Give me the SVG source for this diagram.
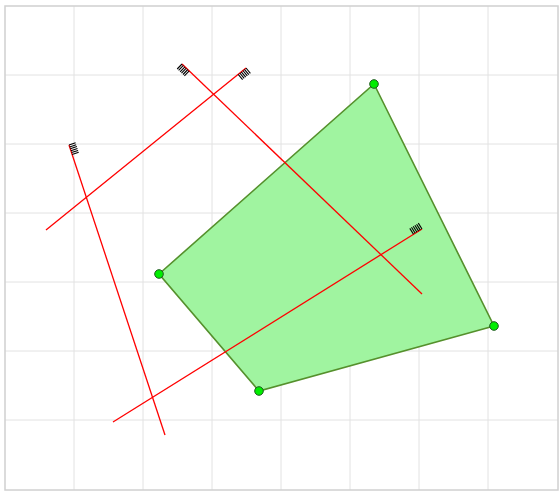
<svg xmlns="http://www.w3.org/2000/svg" width="560" height="491" viewBox="0 0 560 491">
<style>
.grid{stroke:#e2e2e2;stroke-width:1;fill:none}
.frame{stroke:#d0d0d0;stroke-width:1.5;fill:none}
.poly{fill:#a0f4a0;stroke:#55902c;stroke-width:1.6}
.pt{fill:#00ee00;stroke:#1e5a1e;stroke-width:1}
.ln{stroke:#ff0000;stroke-width:1.3;fill:none}
.tk{stroke:#000;stroke-width:1.1;fill:none}
</style>
<rect width="560" height="491" fill="#fff"/>
<g id="grid" class="grid">
<path d="M74 6V490M143 6V490M212 6V490M281 6V490M350 6V490M419 6V490M488 6V490M5 75H558M5 144H558M5 213H558M5 282H558M5 351H558M5 420H558"/>
</g>
<rect class="frame" x="5" y="6" width="553" height="484"/>
<g id="polygon">
<polygon class="poly" points="374,84 494,326 259,391 159,274"/>
<circle class="pt" cx="374" cy="84" r="4.3"/>
<circle class="pt" cx="494" cy="326" r="4.3"/>
<circle class="pt" cx="259" cy="391" r="4.3"/>
<circle class="pt" cx="159" cy="274" r="4.3"/>
</g>
<g id="connectors">
<g id="line1">
<line class="ln" x1="46" y1="230" x2="246" y2="68"/>
<path class="tk" d="M246 68L250.4 73.4M244.4 69.3L248.8 74.7M242.9 70.5L247.3 75.9M241.3 71.8L245.7 77.2M239.8 73L244.2 78.4M238.2 74.3L242.6 79.7"/>
</g>
<g id="line2">
<line class="ln" x1="182" y1="64" x2="422" y2="294"/>
<path class="tk" d="M182 64L177.2 69M183.4 65.4L178.6 70.4M184.9 66.8L180.1 71.8M186.3 68.2L181.5 73.2M187.8 69.5L183 74.5M189.2 70.9L184.4 75.9"/>
</g>
<g id="line3">
<line class="ln" x1="69" y1="145" x2="165" y2="435"/>
<path class="tk" d="M69 145L75.6 142.8M69.6 146.9L76.2 144.7M70.3 148.8L76.9 146.6M70.9 150.7L77.5 148.5M71.5 152.6L78.1 150.4M72.1 154.5L78.7 152.3"/>
</g>
<g id="line4">
<line class="ln" x1="113" y1="422" x2="422" y2="229"/>
<path class="tk" d="M422 229L418.3 223.1M420.3 230.1L416.6 224.2M418.6 231.1L414.9 225.2M416.9 232.2L413.2 226.3M415.2 233.2L411.5 227.3M413.5 234.3L409.8 228.4"/>
</g>
</g>
</svg>
